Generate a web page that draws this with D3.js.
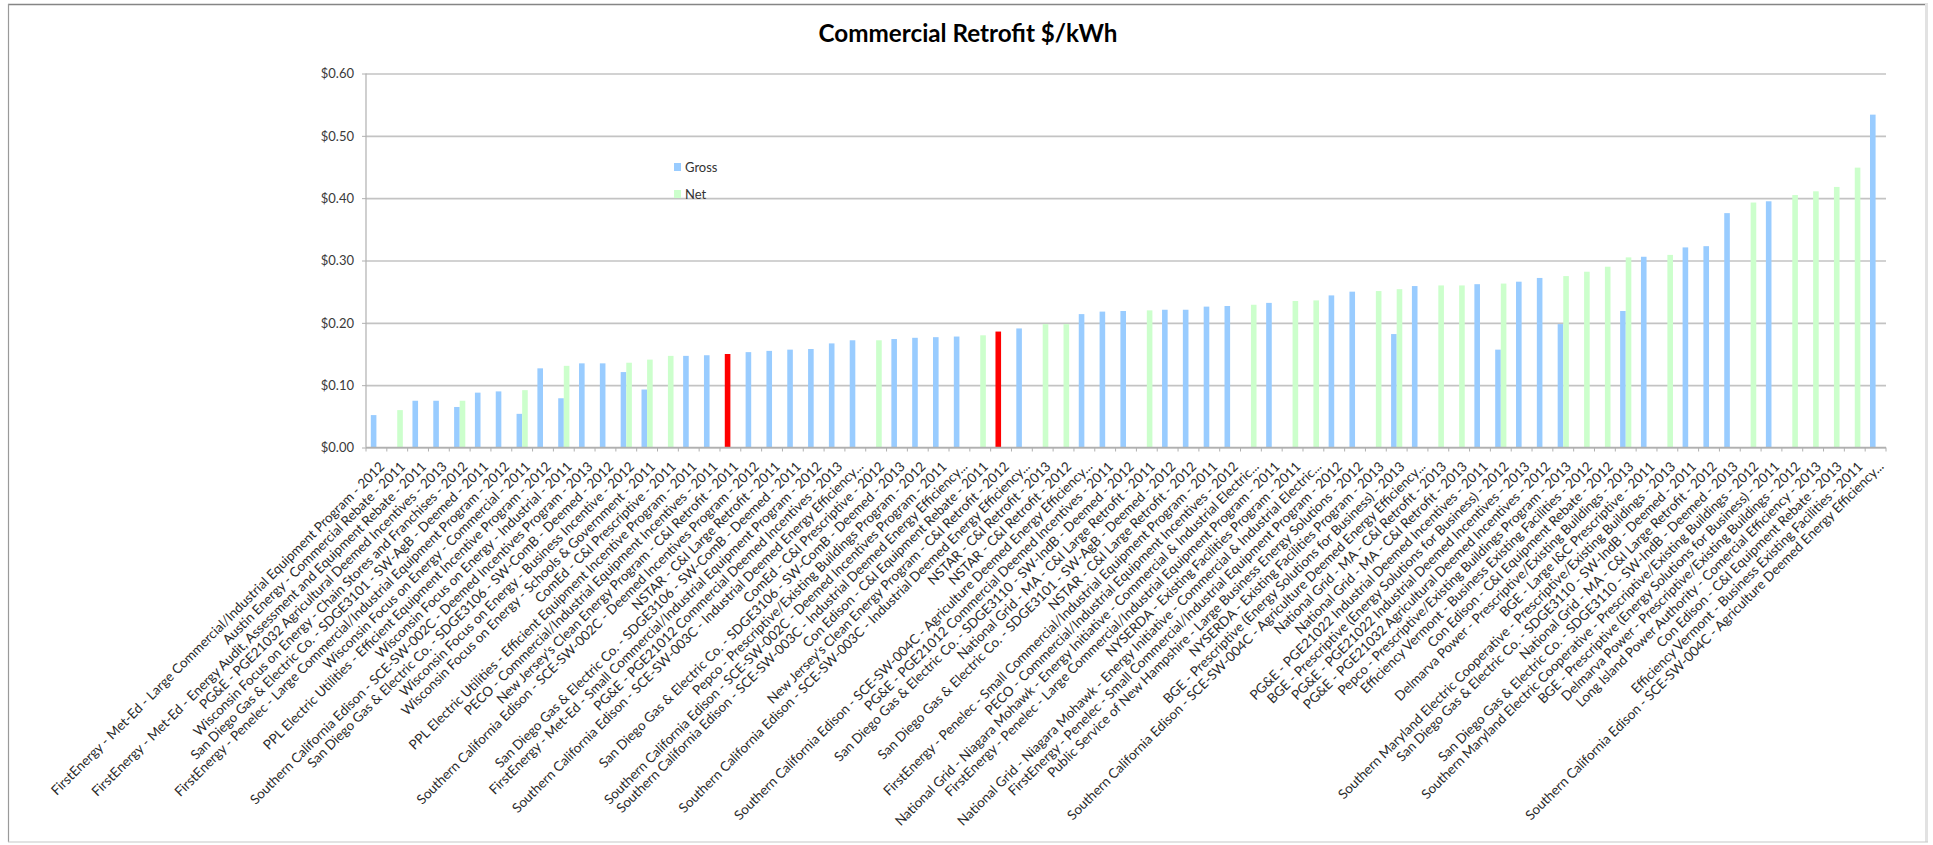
<!DOCTYPE html>
<html>
<head>
<meta charset="utf-8">
<script src="https://cdn.jsdelivr.net/npm/d3@7"></script>
<style>
  html, body { margin: 0; padding: 0; background: #ffffff; }
  svg { display: block; }
  text { font-family: Lato, "Open Sans", sans-serif; }
</style>
</head>
<body>
<svg id="chart" width="1933" height="845"></svg>
<script>
const chartTitle = "Commercial Retrofit $/kWh";
const seriesNames = ["Gross", "Net"];

const categories = [
  "FirstEnergy - Met-Ed - Large Commercial/Industrial Equipment Program - 2012",
  "Austin Energy - Commercial Rebate - 2011",
  "FirstEnergy - Met-Ed - Energy Audit, Assessment and Equipment Rebate - 2011",
  "PG&E - PGE21032 Agricultural Deemed Incentives - 2013",
  "Wisconsin Focus on Energy - Chain Stores and Franchises - 2012",
  "San Diego Gas & Electric Co. - SDGE3101 - SW-AgB - Deemed - 2011",
  "FirstEnergy - Penelec - Large Commercial/Industrial Equipment Program - 2012",
  "Wisconsin Focus on Energy - Commercial - 2011",
  "PPL Electric Utilities - Efficient Equipment Incentive Program - 2012",
  "Wisconsin Focus on Energy - Industrial - 2011",
  "Southern California Edison - SCE-SW-002C - Deemed Incentives Program - 2013",
  "San Diego Gas & Electric Co. - SDGE3106 - SW-ComB - Deemed - 2012",
  "Wisconsin Focus on Energy - Business Incentive - 2012",
  "Wisconsin Focus on Energy - Schools & Government - 2011",
  "ComEd - C&I Prescriptive - 2011",
  "PPL Electric Utilities - Efficient Equipment Incentive Program - 2011",
  "PECO - Commercial/Industrial Equipment Incentives - 2011",
  "New Jersey's Clean Energy Program - C&I Retrofit - 2011",
  "Southern California Edison - SCE-SW-002C - Deemed Incentives Program - 2012",
  "NSTAR - C&I Large Retrofit - 2011",
  "San Diego Gas & Electric Co. - SDGE3106 - SW-ComB - Deemed - 2011",
  "FirstEnergy - Met-Ed - Small Commercial/Industrial Equipment Program - 2012",
  "PG&E - PGE21012 Commercial Deemed Incentives - 2013",
  "Southern California Edison - SCE-SW-003C - Industrial Deemed Energy Efficiency...",
  "ComEd - C&I Prescriptive - 2012",
  "San Diego Gas & Electric Co. - SDGE3106 - SW-ComB - Deemed - 2013",
  "Pepco - Prescriptive/Existing Buildings Program - 2012",
  "Southern California Edison - SCE-SW-002C - Deemed Incentives Program - 2011",
  "Southern California Edison - SCE-SW-003C - Industrial Deemed Energy Efficiency...",
  "Con Edison - C&I Equipment Rebate - 2011",
  "New Jersey's Clean Energy Program - C&I Retrofit - 2012",
  "Southern California Edison - SCE-SW-003C - Industrial Deemed Energy Efficiency...",
  "NSTAR - C&I Retrofit - 2013",
  "NSTAR - C&I Retrofit - 2012",
  "Southern California Edison - SCE-SW-004C - Agriculture Deemed Energy Efficiency...",
  "PG&E - PGE21012 Commercial Deemed Incentives - 2011",
  "San Diego Gas & Electric Co. - SDGE3110 - SW-IndB - Deemed - 2012",
  "National Grid - MA - C&I Large Retrofit - 2011",
  "San Diego Gas & Electric Co. - SDGE3101 - SW-AgB - Deemed - 2012",
  "NSTAR - C&I Large Retrofit - 2012",
  "FirstEnergy - Penelec - Small Commercial/Industrial Equipment Program - 2011",
  "PECO - Commercial/Industrial Equipment Incentives - 2012",
  "National Grid - Niagara Mohawk - Energy Initiative - Commercial & Industrial Electric...",
  "FirstEnergy - Penelec - Large Commercial/Industrial Equipment Program - 2011",
  "NYSERDA - Existing Facilities Program - 2011",
  "National Grid - Niagara Mohawk - Energy Initiative - Commercial & Industrial Electric...",
  "FirstEnergy - Penelec - Small Commercial/Industrial Equipment Program - 2012",
  "Public Service of New Hampshire - Large Business Energy Solutions - 2012",
  "NYSERDA - Existing Facilities Program - 2013",
  "BGE - Prescriptive (Energy Solutions for Business) - 2013",
  "Southern California Edison - SCE-SW-004C - Agriculture Deemed Energy Efficiency...",
  "National Grid - MA - C&I Retrofit - 2013",
  "National Grid - MA - C&I Retrofit - 2013",
  "PG&E - PGE21022 Industrial Deemed Incentives - 2011",
  "BGE - Prescriptive (Energy Solutions for Business) - 2012",
  "PG&E - PGE21022 Industrial Deemed Incentives - 2013",
  "PG&E - PGE21032 Agricultural Deemed Incentives - 2012",
  "Pepco - Prescriptive/Existing Buildings Program - 2013",
  "Efficiency Vermont - Business Existing Facilities - 2012",
  "Con Edison - C&I Equipment Rebate - 2012",
  "Delmarva Power - Prescriptive/Existing Buildings - 2013",
  "BGE - Large I&C Prescriptive - 2011",
  "Southern Maryland Electric Cooperative - Prescriptive/Existing Buildings - 2013",
  "San Diego Gas & Electric Co. - SDGE3110 - SW-IndB - Deemed - 2011",
  "National Grid - MA - C&I Large Retrofit - 2012",
  "San Diego Gas & Electric Co. - SDGE3110 - SW-IndB - Deemed - 2013",
  "Southern Maryland Electric Cooperative - Prescriptive/Existing Buildings - 2012",
  "BGE - Prescriptive (Energy Solutions for Business) - 2011",
  "Delmarva Power - Prescriptive/Existing Buildings - 2012",
  "Long Island Power Authority - Comercial Efficiency - 2013",
  "Con Edison - C&I Equipment Rebate - 2013",
  "Efficiency Vermont - Business Existing Facilities - 2011",
  "Southern California Edison - SCE-SW-004C - Agriculture Deemed Energy Efficiency..."
];

const grossValues = [
  0.052, null, 0.075, 0.075, 0.065, 0.088, 0.090, 0.054, 0.127, 0.079,
  0.135, 0.135, 0.121, 0.093, null, 0.147, 0.148, 0.150, 0.153, 0.155,
  0.157, 0.158, 0.167, 0.172, null, 0.174, 0.176, 0.177, 0.178, null,
  0.186, 0.191, null, null, 0.214, 0.218, 0.219, null, 0.221, 0.221,
  0.226, 0.227, null, 0.232, null, null, 0.244, 0.250, null, 0.182,
  0.259, null, null, 0.262, 0.157, 0.266, 0.272, 0.198, null, null,
  0.219, 0.306, null, 0.321, 0.323, 0.376, null, 0.395, null, null,
  null, null, 0.534
];

const netValues = [
  null, 0.060, null, null, 0.075, null, null, 0.092, null, 0.131,
  null, null, 0.136, 0.141, 0.147, null, null, null, null, null,
  null, null, null, null, 0.172, null, null, null, null, 0.180,
  null, null, 0.198, 0.198, null, null, null, 0.220, null, null,
  null, null, 0.229, null, 0.235, 0.236, null, null, 0.251, 0.254,
  null, 0.260, 0.260, null, 0.263, null, null, 0.275, 0.282, 0.290,
  0.305, null, 0.309, null, null, null, 0.393, null, 0.405, 0.411,
  0.418, 0.449, null
];

// categories whose gross bar is highlighted in red
const highlightedCategories = [17, 30];

const yTickValues = [0, 0.1, 0.2, 0.3, 0.4, 0.5, 0.6];

// ---------- layout ----------
const W = 1933, H = 845;
const plot = { left: 366, right: 1886, top: 73.5, bottom: 447.5 };
const colors = { gross: "#99CCFF", net: "#CCFFCC", highlight: "#FF0000", grid: "#c3c3c3", axis: "#b0b0b0" };

const svg = d3.select("#chart");
svg.append("rect").attr("width", W).attr("height", H).attr("fill", "#fff");

// frame
svg.append("line").attr("x1", 8).attr("x2", 1928).attr("y1", 4.5).attr("y2", 4.5).attr("stroke", "#858585").attr("stroke-width", 1.3);
svg.append("line").attr("x1", 8.5).attr("x2", 8.5).attr("y1", 4).attr("y2", 842).attr("stroke", "#9a9a9a").attr("stroke-width", 1.2);
svg.append("line").attr("x1", 1926.5).attr("x2", 1926.5).attr("y1", 4).attr("y2", 842).attr("stroke", "#e2e2e2").attr("stroke-width", 3);
svg.append("line").attr("x1", 8).attr("x2", 1928).attr("y1", 842).attr("y2", 842).attr("stroke", "#c8c8c8").attr("stroke-width", 1.2);

const idx = categories.map((d, i) => i);
const x = d3.scaleBand().domain(idx).range([plot.left, plot.right]).padding(0);
const xSub = d3.scaleBand().domain(seriesNames).range([0, x.bandwidth()]).paddingInner(0).paddingOuter(0.86);
const y = d3.scaleLinear().domain([0, 0.6]).range([plot.bottom, plot.top]);

// gridlines
const yAxis = d3.axisLeft(y).tickValues(yTickValues).tickSize(-(plot.right - plot.left)).tickPadding(12)
  .tickFormat(d => "$" + d3.format(".2f")(d));
const gy = svg.append("g").attr("transform", `translate(${plot.left},0)`).call(yAxis);
gy.select(".domain").remove();
gy.selectAll(".tick line").attr("stroke", colors.grid).attr("stroke-width", 1.6);
gy.selectAll(".tick text").attr("font-size", 13).attr("fill", "#3a3a3a").attr("font-family", "Lato, sans-serif");
// small outside tick marks on y axis
gy.selectAll(".tick").append("line").attr("x1", -4).attr("x2", 0).attr("y1", 0).attr("y2", 0)
  .attr("stroke", colors.axis).attr("stroke-width", 1);
// y axis line
svg.append("line").attr("x1", plot.left).attr("x2", plot.left).attr("y1", plot.top).attr("y2", plot.bottom)
  .attr("stroke", colors.axis).attr("stroke-width", 1.2);

// bars
const rows = idx.map(i => ({ i, gross: grossValues[i], net: netValues[i] }));
const gBars = svg.append("g");
gBars.selectAll("rect.gross").data(rows.filter(r => r.gross != null)).join("rect")
  .attr("class", "gross")
  .attr("x", r => x(r.i) + xSub("Gross"))
  .attr("width", xSub.bandwidth())
  .attr("y", r => y(r.gross))
  .attr("height", r => y(0) - y(r.gross))
  .attr("fill", r => highlightedCategories.includes(r.i) ? colors.highlight : colors.gross);
gBars.selectAll("rect.net").data(rows.filter(r => r.net != null)).join("rect")
  .attr("class", "net")
  .attr("x", r => x(r.i) + xSub("Net"))
  .attr("width", xSub.bandwidth())
  .attr("y", r => y(r.net))
  .attr("height", r => y(0) - y(r.net))
  .attr("fill", colors.net);

// x axis line + boundary ticks
svg.append("line").attr("x1", plot.left).attr("x2", plot.right).attr("y1", plot.bottom).attr("y2", plot.bottom)
  .attr("stroke", colors.axis).attr("stroke-width", 1.4);
const boundaries = idx.map(i => x(i)).concat([plot.right]);
svg.append("g").selectAll("line").data(boundaries).join("line")
  .attr("x1", d => d).attr("x2", d => d).attr("y1", plot.bottom).attr("y2", plot.bottom + 4)
  .attr("stroke", colors.axis).attr("stroke-width", 1);

// x labels (rotated -45)
const gLab = svg.append("g");
const labels = gLab.selectAll("text").data(idx).join("text")
  .attr("text-anchor", "end")
  .attr("fill", "#2a2a2a")
  .attr("font-size", 12)
  .attr("dy", "0.72em")
  .attr("transform", i => `translate(${x(i) + x.bandwidth() / 2 + 2},${plot.bottom + 13}) rotate(-45)`)
  .text(i => categories[i]);
// fit font size so the first label spans ~465px, as in the reference
const len0 = labels.nodes()[0].getComputedTextLength();
if (len0 > 0) {
  const fs = 12 * 465 / len0;
  labels.attr("font-size", fs.toFixed(2));
}

// title
const title = svg.append("text").attr("x", 968).attr("y", 42).attr("text-anchor", "middle")
  .attr("font-weight", "bold").attr("font-size", 22).attr("fill", "#000").text(chartTitle);
const tl = title.node().getComputedTextLength();
if (tl > 0) title.attr("font-size", (22 * 299 / tl).toFixed(2));

// legend
const legend = svg.append("g").attr("transform", "translate(674,163)");
const legendItems = [
  { name: seriesNames[0], color: colors.gross },
  { name: seriesNames[1], color: colors.net }
];
const li = legend.selectAll("g").data(legendItems).join("g").attr("transform", (d, k) => `translate(0,${k * 27})`);
li.append("rect").attr("width", 7).attr("height", 8).attr("fill", d => d.color);
li.append("text").attr("x", 11).attr("y", 9).attr("font-size", 13).attr("fill", "#333").text(d => d.name);
</script>
</body>
</html>
